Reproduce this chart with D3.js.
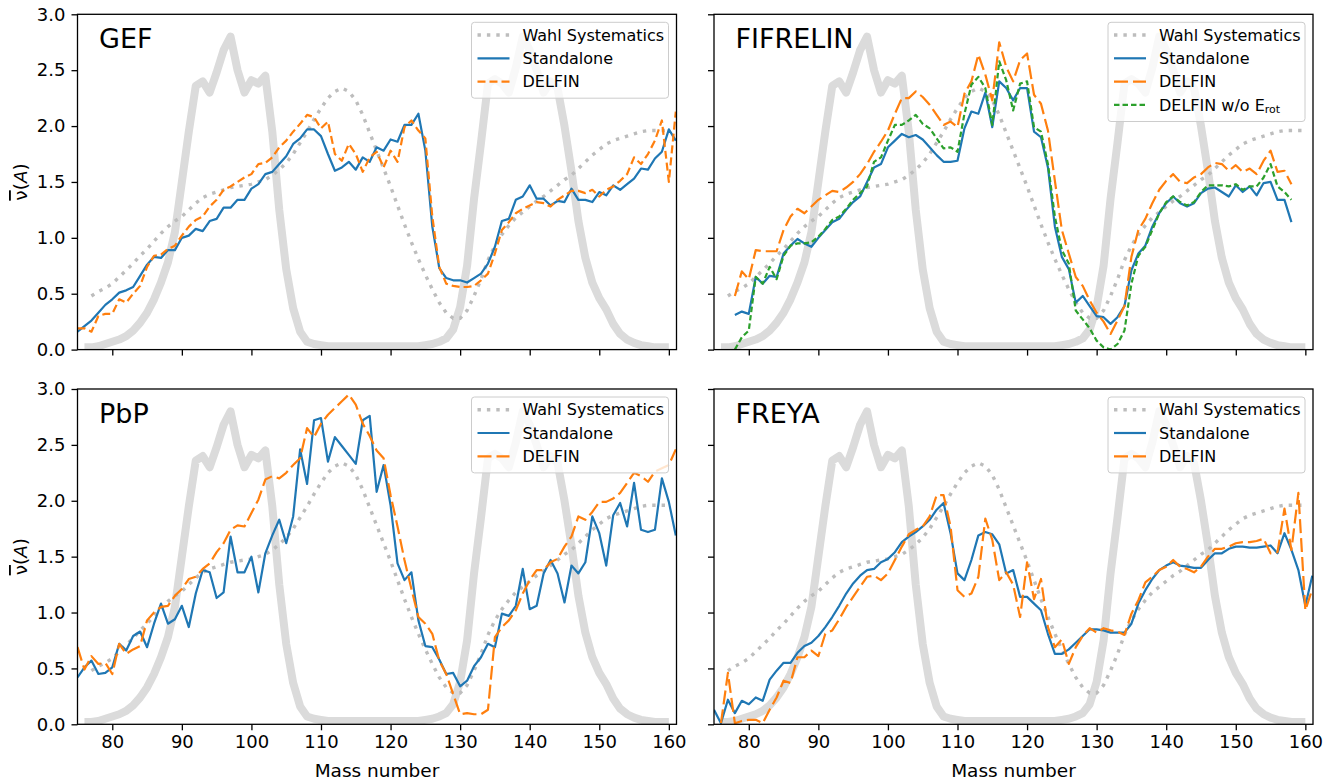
<!DOCTYPE html>
<html>
<head>
<meta charset="utf-8">
<script src="https://cdn.jsdelivr.net/npm/d3@7"></script>
<style>
  body { margin: 0; background: #fff; }
  svg { display: block; font-family: "DejaVu Sans", sans-serif; }
</style>
</head>
<body>
<div id="chart"></div>
<script>
/* mass yield (scaled), same in every panel, A = 76..160 */
var yieldStart = 76;
var yieldVals = [0.02, 0.02, 0.03, 0.05,
  0.07, 0.09, 0.12, 0.17, 0.24, 0.33, 0.45, 0.60, 0.78, 1.05,
  1.50, 1.95, 2.36, 2.40, 2.30, 2.48, 2.68, 2.80, 2.50, 2.30,
  2.41, 2.38, 2.45, 1.95, 1.25, 0.72, 0.37, 0.16, 0.07, 0.05,
  0.04, 0.03, 0.03, 0.03, 0.03, 0.03, 0.03, 0.03, 0.03, 0.03,
  0.03, 0.03, 0.03, 0.03, 0.03, 0.04, 0.05, 0.07, 0.10, 0.18,
  0.38, 0.75, 1.35, 1.85, 2.38, 2.42, 2.38, 2.30, 2.52, 2.80,
  2.68, 2.50, 2.30, 2.40, 2.34, 2.00, 1.60, 1.15, 0.82, 0.60,
  0.46, 0.36, 0.23, 0.14, 0.09, 0.06, 0.04, 0.03, 0.02, 0.02,
  0.02];

/* Wahl systematics, A = 77..160 */
var wahlStart = 77;
var wahlVals = [0.48, 0.52, 0.55,
  0.59, 0.65, 0.71, 0.77, 0.84, 0.90, 0.97, 1.04, 1.10, 1.15,
  1.19, 1.25, 1.31, 1.36, 1.39, 1.41, 1.43, 1.45, 1.46, 1.47,
  1.48, 1.50, 1.52, 1.56, 1.61, 1.67, 1.75, 1.85, 1.95, 2.06,
  2.16, 2.25, 2.31, 2.34, 2.31, 2.23, 2.10, 1.94, 1.78, 1.62,
  1.46, 1.29, 1.12, 0.96, 0.81, 0.67, 0.54, 0.42, 0.33, 0.28,
  0.28, 0.35, 0.48, 0.63, 0.80, 0.93, 1.03, 1.11, 1.18, 1.23,
  1.28, 1.33, 1.37, 1.42, 1.47, 1.52, 1.56, 1.62, 1.68, 1.74,
  1.79, 1.84, 1.87, 1.89, 1.91, 1.93, 1.95, 1.96, 1.96, 1.96,
  1.96];

/* GEF, A = 75..161 */
var gefStart = 75;
var gefStandalone = [0.16, 0.21, 0.26, 0.33, 0.40,
  0.45, 0.51, 0.53, 0.56, 0.66, 0.76, 0.83, 0.82, 0.89, 0.89,
  1.00, 1.02, 1.08, 1.06, 1.15, 1.17, 1.27, 1.27, 1.34, 1.34,
  1.44, 1.48, 1.57, 1.59, 1.66, 1.73, 1.84, 1.89, 1.97, 1.97,
  1.91, 1.75, 1.60, 1.63, 1.68, 1.61, 1.72, 1.68, 1.81, 1.78,
  1.88, 1.86, 2.01, 2.01, 2.11, 1.78, 1.10, 0.73, 0.64, 0.62,
  0.62, 0.60, 0.64, 0.68, 0.77, 0.92, 1.15, 1.17, 1.34, 1.37,
  1.47, 1.35, 1.35, 1.29, 1.33, 1.32, 1.44, 1.34, 1.34, 1.32,
  1.41, 1.38, 1.47, 1.43, 1.48, 1.53, 1.62, 1.61, 1.71, 1.77,
  1.97, 1.87];
var gefDelfin = [0.19, 0.19, 0.16, 0.30, 0.32,
  0.32, 0.45, 0.42, 0.50, 0.57, 0.74, 0.84, 0.85, 0.90, 0.93,
  1.02, 1.10, 1.16, 1.19, 1.28, 1.34, 1.43, 1.46, 1.50, 1.54,
  1.57, 1.66, 1.67, 1.72, 1.81, 1.87, 1.95, 2.02, 2.10, 2.08,
  1.98, 2.04, 1.75, 1.69, 1.84, 1.75, 1.59, 1.72, 1.77, 1.63,
  1.78, 1.68, 1.99, 2.05, 1.96, 1.89, 1.19, 0.74, 0.59, 0.57,
  0.56, 0.56, 0.57, 0.62, 0.68, 0.86, 1.07, 1.14, 1.22, 1.26,
  1.29, 1.32, 1.31, 1.28, 1.34, 1.38, 1.42, 1.42, 1.40, 1.43,
  1.37, 1.43, 1.46, 1.51, 1.57, 1.72, 1.66, 1.75, 1.87, 2.05,
  1.50, 2.13];

/* FIFRELIN, A = 78..158 */
var fifStart = 78;
var fifStandalone = [0.31, 0.34,
  0.32, 0.65, 0.59, 0.66, 0.65, 0.86, 0.93, 0.99, 0.95, 0.92,
  1.00, 1.07, 1.14, 1.17, 1.25, 1.32, 1.37, 1.50, 1.63, 1.66,
  1.81, 1.87, 1.93, 1.90, 1.92, 1.88, 1.81, 1.74, 1.68, 1.68,
  1.69, 1.98, 2.13, 2.11, 2.30, 1.99, 2.40, 2.34, 2.23, 2.34,
  2.34, 1.95, 1.90, 1.63, 1.10, 0.83, 0.72, 0.42, 0.48, 0.39,
  0.30, 0.29, 0.23, 0.29, 0.39, 0.71, 0.86, 0.93, 1.10, 1.22,
  1.31, 1.37, 1.31, 1.28, 1.31, 1.40, 1.44, 1.45, 1.41, 1.37,
  1.47, 1.41, 1.46, 1.38, 1.49, 1.50, 1.34, 1.34, 1.14];
var fifDelfin = [0.48, 0.70,
  0.63, 0.89, 0.88, 0.88, 0.88, 1.07, 1.19, 1.26, 1.22, 1.28,
  1.34, 1.38, 1.42, 1.41, 1.45, 1.50, 1.57, 1.66, 1.77, 1.86,
  1.96, 2.11, 2.25, 2.25, 2.31, 2.26, 2.19, 2.10, 2.01, 2.04,
  1.99, 2.29, 2.40, 2.64, 2.46, 2.23, 2.75, 2.53, 2.40, 2.59,
  2.65, 2.28, 2.20, 1.96, 1.51, 1.07, 0.86, 0.65, 0.57, 0.44,
  0.33, 0.25, 0.14, 0.26, 0.39, 0.83, 1.07, 1.17, 1.31, 1.43,
  1.51, 1.57, 1.50, 1.49, 1.54, 1.57, 1.63, 1.67, 1.66, 1.60,
  1.65, 1.59, 1.62, 1.57, 1.69, 1.78, 1.59, 1.60, 1.48];
var fifNoRot = [0.00, 0.11,
  0.17, 0.65, 0.59, 0.74, 0.63, 0.84, 0.93, 0.95, 0.95, 0.96,
  1.01, 1.08, 1.16, 1.19, 1.26, 1.34, 1.40, 1.46, 1.68, 1.72,
  1.87, 2.01, 2.01, 2.05, 2.10, 2.02, 1.98, 1.89, 1.80, 1.81,
  1.77, 2.11, 2.37, 2.44, 2.34, 2.01, 2.58, 2.41, 2.14, 2.38,
  2.40, 1.99, 1.95, 1.66, 1.19, 0.89, 0.77, 0.35, 0.27, 0.19,
  0.08, 0.02, 0.00, 0.05, 0.17, 0.59, 0.84, 0.92, 1.07, 1.22,
  1.32, 1.37, 1.32, 1.29, 1.32, 1.41, 1.47, 1.47, 1.47, 1.46,
  1.48, 1.43, 1.46, 1.46, 1.54, 1.66, 1.46, 1.41, 1.34];

/* PbP, A = 75..161 */
var pbpStart = 75;
var pbpStandalone = [0.42, 0.51, 0.57, 0.45, 0.46,
  0.51, 0.72, 0.66, 0.79, 0.83, 0.69, 0.90, 1.08, 0.90, 0.94,
  1.06, 0.87, 1.17, 1.38, 1.36, 1.13, 1.18, 1.68, 1.36, 1.36,
  1.50, 1.18, 1.53, 1.69, 1.83, 1.62, 1.86, 2.46, 2.15, 2.72,
  2.74, 2.35, 2.57, 2.49, 2.41, 2.33, 2.72, 2.76, 2.08, 2.32,
  1.96, 1.44, 1.29, 1.36, 0.93, 0.70, 0.69, 0.58, 0.45, 0.46,
  0.34, 0.39, 0.52, 0.60, 0.72, 0.69, 0.99, 0.97, 1.06, 1.39,
  1.03, 1.06, 1.35, 1.47, 1.35, 1.09, 1.42, 1.35, 1.45, 1.86,
  1.71, 1.42, 1.87, 1.98, 1.77, 2.16, 1.74, 1.72, 1.74, 2.20,
  1.99, 1.69];
var pbpDelfin = [0.69, 0.49, 0.61, 0.54, 0.55,
  0.45, 0.72, 0.63, 0.67, 0.70, 0.93, 1.00, 1.05, 1.06, 1.15,
  1.21, 1.30, 1.32, 1.39, 1.44, 1.54, 1.62, 1.74, 1.78, 1.77,
  1.89, 2.01, 2.19, 2.22, 2.20, 2.25, 2.32, 2.38, 2.65, 2.57,
  2.69, 2.77, 2.83, 2.89, 2.95, 2.86, 2.69, 2.58, 2.45, 2.38,
  2.05, 1.77, 1.47, 1.21, 0.96, 0.90, 0.81, 0.57, 0.45, 0.27,
  0.09, 0.10, 0.09, 0.09, 0.13, 0.78, 0.87, 0.93, 1.02, 1.17,
  1.29, 1.38, 1.38, 1.45, 1.48, 1.59, 1.68, 1.86, 1.83, 1.90,
  1.99, 1.99, 2.02, 2.07, 2.16, 2.25, 2.22, 2.17, 2.26, 2.29,
  2.32, 2.46];

/* FREYA, standalone A = 75..161, DELFIN A = 76..161 */
var freyaStart = 75;
var freyaStandalone = [0.13, 0.01, 0.22, 0.10, 0.21,
  0.18, 0.24, 0.21, 0.40, 0.48, 0.55, 0.55, 0.64, 0.70, 0.73,
  0.79, 0.87, 0.96, 1.06, 1.17, 1.26, 1.33, 1.38, 1.39, 1.45,
  1.48, 1.54, 1.63, 1.68, 1.72, 1.77, 1.83, 1.92, 1.98, 1.71,
  1.35, 1.29, 1.47, 1.69, 1.72, 1.70, 1.61, 1.35, 1.38, 1.14,
  1.14, 1.08, 1.02, 0.81, 0.63, 0.63, 0.67, 0.73, 0.79, 0.85,
  0.85, 0.84, 0.82, 0.82, 0.82, 0.90, 1.08, 1.20, 1.30, 1.38,
  1.42, 1.45, 1.42, 1.41, 1.40, 1.40, 1.47, 1.53, 1.53, 1.57,
  1.59, 1.59, 1.58, 1.58, 1.59, 1.60, 1.53, 1.71, 1.56, 1.38,
  1.06, 1.33];
var freyaDelfinStart = 76;
var freyaDelfin = [0.01, 0.46, 0.01, 0.03,
  0.04, 0.04, 0.01, 0.13, 0.24, 0.39, 0.37, 0.60, 0.60, 0.66,
  0.61, 0.81, 0.84, 0.94, 1.05, 1.14, 1.23, 1.32, 1.33, 1.29,
  1.35, 1.47, 1.59, 1.70, 1.74, 1.77, 1.86, 2.05, 2.05, 1.77,
  1.20, 1.14, 1.17, 1.32, 1.84, 1.65, 1.29, 1.36, 1.25, 0.96,
  1.45, 1.12, 1.30, 0.87, 0.69, 0.76, 0.54, 0.69, 0.79, 0.86,
  0.82, 0.86, 0.84, 0.83, 0.80, 0.99, 1.11, 1.27, 1.32, 1.38,
  1.41, 1.47, 1.41, 1.39, 1.36, 1.41, 1.50, 1.57, 1.57, 1.59,
  1.62, 1.63, 1.63, 1.64, 1.66, 1.53, 1.54, 1.93, 1.56, 2.07,
  1.02, 1.21];

var xTicks = [80, 90, 100, 110, 120, 130, 140, 150, 160];
var yTicks = [0.0, 0.5, 1.0, 1.5, 2.0, 2.5, 3.0];

var BLUE = "#1f77b4", ORANGE = "#ff7f0e", GREEN = "#2ca02c";
var WAHL_STYLE = {label: "Wahl Systematics", color: "#bdbdbd", width: 3.4, dash: "3.4,6"};

var panels = [
  {title: "GEF", col: 0, row: 0, series: [
    {label: "Standalone", start: gefStart, vals: gefStandalone, color: BLUE, width: 2.2, dash: null},
    {label: "DELFIN", start: gefStart, vals: gefDelfin, color: ORANGE, width: 2.2, dash: "8,4"}]},
  {title: "FIFRELIN", col: 1, row: 0, series: [
    {label: "Standalone", start: fifStart, vals: fifStandalone, color: BLUE, width: 2.2, dash: null},
    {label: "DELFIN", start: fifStart, vals: fifDelfin, color: ORANGE, width: 2.2, dash: "14,5"},
    {label: "DELFIN w/o E", sub: "rot", start: fifStart, vals: fifNoRot, color: GREEN, width: 2.2, dash: "5.5,3"}]},
  {title: "PbP", col: 0, row: 1, series: [
    {label: "Standalone", start: pbpStart, vals: pbpStandalone, color: BLUE, width: 2.2, dash: null},
    {label: "DELFIN", start: pbpStart, vals: pbpDelfin, color: ORANGE, width: 2.2, dash: "14,5"}]},
  {title: "FREYA", col: 1, row: 1, series: [
    {label: "Standalone", start: freyaStart, vals: freyaStandalone, color: BLUE, width: 2.2, dash: null},
    {label: "DELFIN", start: freyaDelfinStart, vals: freyaDelfin, color: ORANGE, width: 2.2, dash: "14,5"}]}
];

var W = 1338, H = 780;
var colX = [77.5, 714], rowY = [14.3, 389];
var pw = 599, ph = 335.3;

var svg = d3.select("#chart").append("svg")
  .attr("width", W).attr("height", H);

function toPoints(start, vals) {
  return vals.map(function (v, i) { return [start + i, v]; });
}

panels.forEach(function (p, pi) {
  var x = d3.scaleLinear().domain([75, 161.1]).range([0, pw]);
  var y = d3.scaleLinear().domain([0, 3]).range([ph, 0]);
  var g = svg.append("g")
    .attr("transform", "translate(" + colX[p.col] + "," + rowY[p.row] + ")");

  g.append("clipPath").attr("id", "clip" + pi)
    .append("rect").attr("width", pw).attr("height", ph);

  var line = d3.line()
    .x(function (d) { return x(d[0]); })
    .y(function (d) { return y(d[1]); });

  var plot = g.append("g").attr("clip-path", "url(#clip" + pi + ")");

  // yield shape in the back
  plot.append("path")
    .datum(toPoints(yieldStart, yieldVals))
    .attr("d", line)
    .attr("fill", "none")
    .attr("stroke", "#dbdbdb")
    .attr("stroke-width", 8)
    .attr("stroke-linejoin", "round");

  plot.append("path")
    .datum(toPoints(wahlStart, wahlVals))
    .attr("d", line)
    .attr("fill", "none")
    .attr("stroke", WAHL_STYLE.color)
    .attr("stroke-width", WAHL_STYLE.width)
    .attr("stroke-dasharray", WAHL_STYLE.dash);

  p.series.forEach(function (s) {
    plot.append("path")
      .datum(toPoints(s.start, s.vals))
      .attr("d", line)
      .attr("fill", "none")
      .attr("stroke", s.color)
      .attr("stroke-width", s.width)
      .attr("stroke-dasharray", s.dash)
      .attr("stroke-linejoin", "round");
  });

  // axes
  var xAxis = d3.axisBottom(x).tickValues(xTicks).tickSize(6).tickPadding(5).tickSizeOuter(0)
    .tickFormat(p.row === 1 ? d3.format("d") : function () { return ""; });
  var yAxis = d3.axisLeft(y).tickValues(yTicks).tickSize(6).tickPadding(6).tickSizeOuter(0)
    .tickFormat(p.col === 0 ? d3.format(".1f") : function () { return ""; });

  var gx = g.append("g").attr("transform", "translate(0," + ph + ")").call(xAxis);
  var gy = g.append("g").call(yAxis);
  [gx, gy].forEach(function (a) {
    a.select(".domain").remove();
    a.selectAll(".tick line").attr("stroke", "#000").attr("stroke-width", 1.3);
    a.selectAll(".tick text").attr("fill", "#000")
      .style("font-family", "DejaVu Sans").style("font-size", "18px");
  });

  g.append("rect")
    .attr("width", pw).attr("height", ph)
    .attr("fill", "none").attr("stroke", "#000").attr("stroke-width", 1.3);

  g.append("text")
    .attr("x", 21.5).attr("y", 34)
    .style("font-size", "27px")
    .text(p.title);

  if (p.col === 0) {
    var yl = svg.append("text")
      .attr("transform", "translate(" + 27 + "," + (rowY[p.row] + ph / 2) + ") rotate(-90)")
      .attr("text-anchor", "middle")
      .style("font-size", "18.5px");
    yl.append("tspan").style("text-decoration", "overline").text("ν");
    yl.append("tspan").text("(");
    yl.append("tspan").style("font-style", "italic").text("A");
    yl.append("tspan").text(")");
  }
  if (p.row === 1) {
    g.append("text")
      .attr("x", pw / 2).attr("y", ph + 53)
      .attr("text-anchor", "middle")
      .style("font-size", "18.5px")
      .text("Mass number");
  }

  // legend
  var entries = [WAHL_STYLE].concat(p.series);
  var lw = 197, rowH = 23.3;
  var lh = 6 + entries.length * rowH;
  var lg = g.append("g").attr("transform", "translate(" + (pw - 8 - lw) + ",8)");
  lg.append("rect")
    .attr("width", lw).attr("height", lh).attr("rx", 3)
    .attr("fill", "#fff").attr("fill-opacity", 0.8)
    .attr("stroke", "#cccccc").attr("stroke-width", 1);
  entries.forEach(function (e, i) {
    var cy = 12.7 + i * rowH;
    lg.append("line")
      .attr("x1", 6).attr("x2", 38).attr("y1", cy).attr("y2", cy)
      .attr("stroke", e.color).attr("stroke-width", e.width)
      .attr("stroke-dasharray", e.dash);
    var t = lg.append("text")
      .attr("x", 51).attr("y", cy).attr("dy", "0.36em")
      .style("font-size", "16px")
      .text(e.label);
    if (e.sub) {
      t.append("tspan").attr("dy", "0.25em").style("font-size", "11px").text(e.sub);
    }
  });
});
</script>
</body>
</html>
